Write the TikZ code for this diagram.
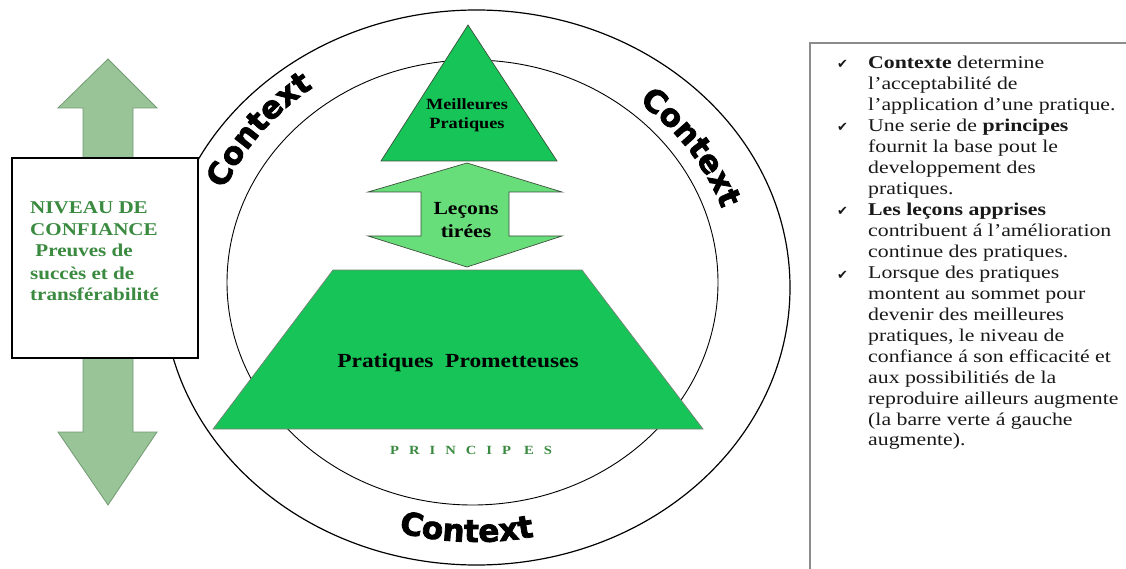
\documentclass[tikz,border=0pt]{standalone}
\usepackage{fontspec}
\setmainfont{Liberation Serif}
\newfontfamily\leftfont{Liberation Serif}[FakeStretch=1.17]
\newfontfamily\rightfont{Liberation Serif}[FakeStretch=1.21]
\newfontfamily\ctxfont{DejaVu Sans}[BoldFeatures={FakeBold=2.5}]
\newfontfamily\symfont{DejaVu Sans}
\usetikzlibrary{decorations.text}
\definecolor{leftarrow}{RGB}{152,196,152}
\definecolor{leftarrowline}{RGB}{115,155,115}
\definecolor{pyr}{RGB}{22,196,88}
\definecolor{lecons}{RGB}{104,222,122}
\definecolor{shapeline}{RGB}{60,80,60}
\definecolor{txtgreen}{RGB}{58,138,64}
\definecolor{boxgray}{RGB}{140,140,140}
\definecolor{bodytext}{RGB}{25,25,25}
\tikzset{
  ctxstyle/.style={decorate, decoration={text along path, text align=center,
      text={|\ctxfont\bfseries\fontsize{31}{31}\selectfont|Context}}},
  lefttxt/.style={anchor=base west, inner sep=0pt, text=txtgreen,
      font=\leftfont\bfseries\fontsize{18}{18}\selectfont},
  shapetxt/.style={anchor=base, inner sep=0pt, text=black},
  bodyline/.style={anchor=base west, inner sep=0pt, text=bodytext,
      font=\rightfont\fontsize{18}{18}\selectfont},
  checkmark/.style={anchor=base west, inner sep=0pt, text=bodytext,
      font=\symfont\fontsize{13}{13}\selectfont},
}
\begin{document}
\begin{tikzpicture}[x=1pt,y=-1pt]
\useasboundingbox (0,0) rectangle (1126,569);
\fill[white] (0,0) rectangle (1126,569);

% rings
\draw[line width=1.2pt] (476.5,287.5) ellipse [x radius=313.5, y radius=277.5];
\draw[line width=0.9pt] (472.5,282.5) ellipse [x radius=245.5, y radius=222.5];

% curved Context labels
\path[ctxstyle] (476,285) ++(198:273 and 246) arc[start angle=198, end angle=238, x radius=273, y radius=246];
\path[ctxstyle] (476,285) ++(305:260 and 234) arc[start angle=305, end angle=345, x radius=260, y radius=234];
\path[ctxstyle] (476,285) ++(112:285 and 257) arc[start angle=112, end angle=72, x radius=285, y radius=257];

% left double arrow
\draw[fill=leftarrow, draw=leftarrowline, line width=0.8pt]
  (108,59) -- (157,108) -- (133,108) -- (133,432) -- (157,432) -- (108,505)
  -- (58,432) -- (83,432) -- (83,108) -- (58,108) -- cycle;
\draw[line width=1.8pt, fill=white] (12,158) rectangle (198,358);
\node[lefttxt] (l1) at (30,214) {NIVEAU DE};
\node[lefttxt] (l2) at (30,236) {CONFIANCE};
\node[lefttxt] (l3) at (30,257) {\ Preuves de};
\node[lefttxt] (l4) at (30,279) {succès et de};
\node[lefttxt] (l5) at (30,300) {transférabilité};

% pyramid
\draw[fill=pyr, draw=shapeline, line width=0.7pt] (468,25) -- (557,161) -- (381,161) -- cycle;
\node[shapetxt, font=\leftfont\bfseries\fontsize{15.6}{15.6}\selectfont] (mp1) at (467,110) {Meilleures};
\node[shapetxt, font=\leftfont\bfseries\fontsize{15.6}{15.6}\selectfont] (mp2) at (467,129) {Pratiques};

\draw[fill=lecons, draw=shapeline, line width=0.7pt]
  (467,163) -- (562,192) -- (509,192) -- (509,236) -- (562,236) -- (467,267)
  -- (368,236) -- (421,236) -- (421,192) -- (368,192) -- cycle;
\node[shapetxt, font=\leftfont\bfseries\fontsize{18.5}{18.5}\selectfont] (lt1) at (466,215) {Leçons};
\node[shapetxt, font=\leftfont\bfseries\fontsize{18.5}{18.5}\selectfont] (lt2) at (466,238) {tirées};

\draw[fill=pyr, draw=shapeline!70, line width=0.7pt] (333,270) -- (582,270) -- (703,429) -- (213,429) -- cycle;
\node[shapetxt, font=\leftfont\bfseries\fontsize{20}{20}\selectfont] (pp) at (458,367) {Pratiques\ \ Prometteuses};

\node[shapetxt, text=txtgreen, font=\leftfont\bfseries\fontsize{12.5}{12.5}\selectfont] (pr) at (471,454)
  {P\hspace{10pt}R\hspace{10pt}I\hspace{10pt}N\hspace{10pt}C\hspace{10pt}I\hspace{10pt}P\hspace{13pt}E\hspace{10pt}S};

% right panel
\draw[boxgray, line width=1.1pt] (1127,43) -- (810,43) -- (810,570);
\node[checkmark] (c1) at (837,69) {✔};
\node[checkmark] (c2) at (837,132) {✔};
\node[checkmark] (c3) at (837,216) {✔};
\node[checkmark] (c4) at (837,279) {✔};
\node[bodyline] (r0) at (868,69.0) {\textbf{Contexte} determine};
\node[bodyline] (r1) at (868,89.9) {l’acceptabilité de};
\node[bodyline] (r2) at (868,110.9) {l’application d’une pratique.};
\node[bodyline] (r3) at (868,131.8) {Une serie de \textbf{principes}};
\node[bodyline] (r4) at (868,152.8) {fournit la base pout le};
\node[bodyline] (r5) at (868,173.7) {developpement des};
\node[bodyline] (r6) at (868,194.6) {pratiques.};
\node[bodyline] (r7) at (868,215.6) {\textbf{Les leçons apprises}};
\node[bodyline] (r8) at (868,236.5) {contribuent á l’amélioration};
\node[bodyline] (r9) at (868,257.5) {continue des pratiques.};
\node[bodyline] (r10) at (868,278.4) {Lorsque des pratiques};
\node[bodyline] (r11) at (868,299.3) {montent au sommet pour};
\node[bodyline] (r12) at (868,320.3) {devenir des meilleures};
\node[bodyline] (r13) at (868,341.2) {pratiques, le niveau de};
\node[bodyline] (r14) at (868,362.2) {confiance á son efficacité et};
\node[bodyline] (r15) at (868,383.1) {aux possibilitiés de la};
\node[bodyline] (r16) at (868,404.0) {reproduire ailleurs augmente};
\node[bodyline] (r17) at (868,425.0) {(la barre verte á gauche};
\node[bodyline] (r18) at (868,445.9) {augmente).};
\end{tikzpicture}
\end{document}
